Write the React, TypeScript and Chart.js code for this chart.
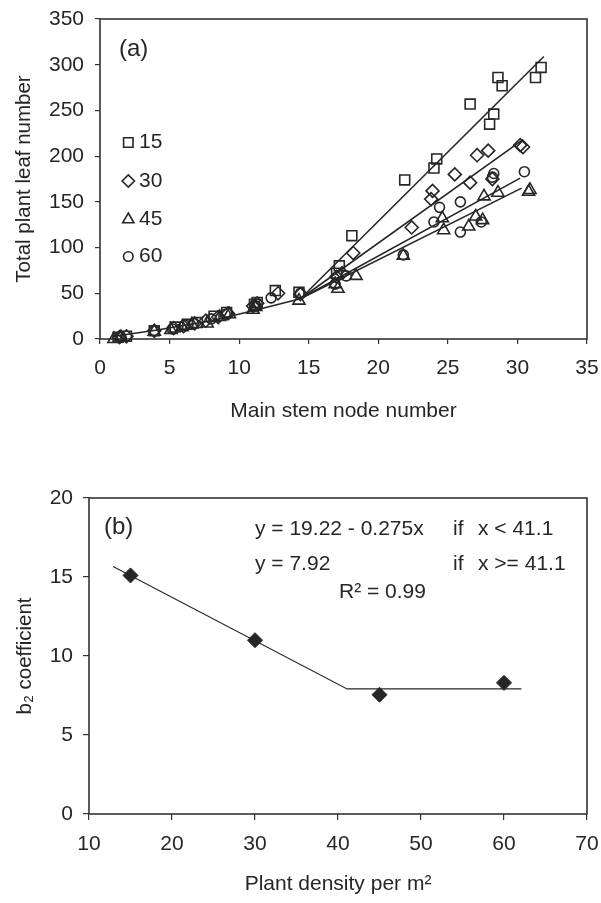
import React, { useEffect, useRef } from "react";
import { Chart, registerables } from "chart.js";
Chart.register(...registerables);

const FONT = '"Liberation Sans", Arial, Helvetica, sans-serif';
const INK = "#262626";
const FRAME = "#333333";

// ---------- Panel (a) data ----------
const seriesNames = ["15", "30", "45", "60"];
const s15X = [1.3, 1.9, 3.9, 5.4, 6.3, 7.0, 8.2, 9.1, 11.1, 11.3, 12.6, 14.3, 17.0, 17.2, 18.1, 21.9, 24.0, 24.2, 26.6, 28.0, 28.3, 28.6, 28.9, 31.3, 31.7];
const s15Y = [2, 3, 9, 13, 16, 18, 25, 29, 38, 40, 53, 51, 72, 80, 113, 174, 187, 197, 257, 235, 246, 286, 277, 286, 297];
const s30X = [1.4, 1.9, 3.9, 5.3, 6.0, 6.8, 7.6, 8.5, 9.2, 11.0, 11.3, 12.8, 14.4, 17.0, 17.4, 18.2, 22.4, 23.8, 23.9, 25.5, 26.6, 27.1, 27.9, 28.2, 30.2, 30.4];
const s30Y = [2, 3, 9, 12, 14, 17, 20, 24, 28, 36, 39, 50, 49, 68, 72, 94, 122, 153, 162, 180, 171, 201, 206, 175, 212, 210];
const s45X = [1.0, 1.5, 3.9, 5.1, 5.9, 6.6, 7.7, 8.6, 9.3, 11.0, 11.2, 14.3, 16.9, 17.1, 18.4, 21.8, 24.6, 24.7, 26.5, 27.0, 27.5, 27.6, 28.6, 30.8, 30.9];
const s45Y = [0, 2, 8, 10, 13, 16, 17, 24, 27, 32, 35, 42, 60, 55, 69, 91, 132, 119, 123, 134, 130, 156, 160, 161, 163];
const s60X = [1.5, 3.9, 5.2, 6.1, 6.7, 8.0, 9.0, 11.2, 12.3, 14.4, 16.9, 17.7, 21.8, 24.0, 24.4, 25.9, 25.9, 27.4, 28.2, 28.3, 30.5];
const s60Y = [2, 9, 11, 15, 17, 22, 27, 36, 45, 50, 60, 69, 92, 128, 144, 117, 150, 128, 177, 181, 183];

// fitted curves
const fitBaseX = [1.0, 4.0, 8.0, 11.0, 14.4];
const fitBaseY = [3, 9.5, 20, 31, 44];
const fit15X = [14.4, 31.9];
const fit15Y = [44, 309];
const fit30X = [14.4, 30.4];
const fit30Y = [44, 218];
const fit45X = [14.4, 30.3];
const fit45Y = [44, 165];
const fit60X = [14.4, 30.2];
const fit60Y = [44, 176];

const xTicksA = [0, 5, 10, 15, 20, 25, 30, 35];
const yTicksA = [0, 50, 100, 150, 200, 250, 300, 350];

// ---------- Panel (b) data ----------
const densities = [15, 30, 45, 60];
const b2Values = [15.1, 11.0, 7.55, 8.3];
const b2FitX = [12.9, 41.1, 62.1];
const b2FitY = [15.67, 7.92, 7.92];
const xTicksB = [10, 20, 30, 40, 50, 60, 70];
const yTicksB = [0, 5, 10, 15, 20];
const eqLeft = ["y = 19.22 - 0.275x", "y = 7.92"];
const eqIf = ["if", "if"];
const eqCond = ["x < 41.1", "x >= 41.1"];
const eqR2 = "R\u00B2 = 0.99";

const pts = (xs: number[], ys: number[]) => xs.map((x, i) => ({ x, y: ys[i] }));

type Shape = "rect" | "rectRot" | "triangle" | "circle";
const shapes: Shape[] = ["rect", "rectRot", "triangle", "circle"];
const radii = [7, 6.5, 7, 5];

function drawShape(ctx: CanvasRenderingContext2D, shape: Shape, x: number, y: number, r: number) {
  ctx.beginPath();
  if (shape === "rect") {
    const s = Math.SQRT1_2 * r;
    ctx.rect(x - s, y - s, 2 * s, 2 * s);
  } else if (shape === "rectRot") {
    ctx.moveTo(x, y - r);
    ctx.lineTo(x + r, y);
    ctx.lineTo(x, y + r);
    ctx.lineTo(x - r, y);
    ctx.closePath();
  } else if (shape === "triangle") {
    const w = r * Math.sin(Math.PI / 3);
    ctx.moveTo(x, y - r);
    ctx.lineTo(x + w, y + r / 2);
    ctx.lineTo(x - w, y + r / 2);
    ctx.closePath();
  } else {
    ctx.arc(x, y, r, 0, Math.PI * 2);
  }
  ctx.stroke();
}

const framePlugin = {
  id: "frame",
  beforeDatasetsDraw(chart: any) {
    const { ctx, chartArea: a } = chart;
    ctx.save();
    ctx.strokeStyle = FRAME;
    ctx.lineWidth = 1.6;
    ctx.strokeRect(a.left, a.top, a.right - a.left, a.bottom - a.top);
    ctx.restore();
  },
};

const legendPluginA = {
  id: "legendA",
  afterDatasetsDraw(chart: any) {
    const { ctx } = chart;
    ctx.save();
    ctx.strokeStyle = INK;
    ctx.fillStyle = INK;
    ctx.lineWidth = 1.6;
    ctx.font = `21px ${FONT}`;
    ctx.textBaseline = "middle";
    ctx.textAlign = "left";
    const ys = [142.5, 181, 219.5, 256.5];
    seriesNames.forEach((name, i) => {
      drawShape(ctx, shapes[i], 128.3, ys[i], i === 2 ? 6.5 : radii[i] * 0.95);
      ctx.fillText(name, 139, ys[i]);
    });
    ctx.font = `24px ${FONT}`;
    ctx.fillText("(a)", 119, 49);
    ctx.restore();
  },
};

const annotPluginB = {
  id: "annotB",
  afterDatasetsDraw(chart: any) {
    const { ctx } = chart;
    ctx.save();
    ctx.fillStyle = INK;
    ctx.textBaseline = "middle";
    ctx.textAlign = "left";
    ctx.font = `24px ${FONT}`;
    ctx.fillText("(b)", 104, 87);
    ctx.font = `21px ${FONT}`;
    const ys = [89, 124];
    eqLeft.forEach((t, i) => {
      ctx.fillText(t, 255, ys[i]);
      ctx.fillText(eqIf[i], 453, ys[i]);
      ctx.fillText(eqCond[i], 478, ys[i]);
    });
    ctx.fillText(eqR2, 339, 152);
    ctx.restore();
  },
};

function xAxis(min: number, max: number, ticks: number[], height: number, tickLen: number, pad: number, title: string, titlePadBottom: number) {
  return {
    type: "linear",
    min,
    max,
    afterBuildTicks: (s: any) => {
      s.ticks = ticks.map((v) => ({ value: v }));
    },
    afterFit: (s: any) => {
      s.height = height;
      s.paddingLeft = 0;
      s.paddingRight = 0;
    },
    grid: { display: true, drawOnChartArea: false, drawTicks: true, tickLength: tickLen, color: FRAME, lineWidth: 1.2 },
    border: { display: false },
    ticks: { padding: pad, color: INK, font: { family: FONT, size: 21 }, maxRotation: 0, autoSkip: false },
    title: { display: true, text: title, color: INK, font: { family: FONT, size: 21 }, padding: { top: 0, bottom: titlePadBottom } },
  };
}

function yAxis(min: number, max: number, ticks: number[], width: number, tickLen: number, pad: number, title: string, titlePadTop: number, titleSize: number) {
  return {
    type: "linear",
    min,
    max,
    afterBuildTicks: (s: any) => {
      s.ticks = ticks.map((v) => ({ value: v }));
    },
    afterFit: (s: any) => {
      s.width = width;
      s.paddingTop = 0;
      s.paddingBottom = 0;
    },
    grid: { display: true, drawOnChartArea: false, drawTicks: true, tickLength: tickLen, color: FRAME, lineWidth: 1.2 },
    border: { display: false },
    ticks: { padding: pad, color: INK, font: { family: FONT, size: 21 }, autoSkip: false },
    title: { display: true, text: title, color: INK, font: { family: FONT, size: titleSize }, padding: { top: titlePadTop, bottom: 0 } },
  };
}

function lineDs(xs: number[], ys: number[], w: number) {
  return {
    type: "scatter",
    data: pts(xs, ys),
    showLine: true,
    pointRadius: 0,
    borderColor: INK,
    borderWidth: w,
    fill: false,
    clip: false,
  };
}

export default function App() {
  const refA = useRef<HTMLCanvasElement>(null);
  const refB = useRef<HTMLCanvasElement>(null);

  useEffect(() => {
    const seriesX = [s15X, s30X, s45X, s60X];
    const seriesY = [s15Y, s30Y, s45Y, s60Y];
    const markerSets = seriesNames.map((name, i) => ({
      type: "scatter",
      label: name,
      data: pts(seriesX[i], seriesY[i]),
      showLine: false,
      pointStyle: shapes[i],
      pointRadius: radii[i],
      pointBorderWidth: 1.6,
      pointBorderColor: INK,
      pointBackgroundColor: "rgba(0,0,0,0)",
      borderColor: INK,
      backgroundColor: "rgba(0,0,0,0)",
      clip: false,
    }));

    const chartA = new Chart(refA.current as HTMLCanvasElement, {
      type: "scatter",
      data: {
        datasets: [
          ...markerSets,
          lineDs(fitBaseX, fitBaseY, 1.6),
          lineDs(fit15X, fit15Y, 1.6),
          lineDs(fit30X, fit30Y, 1.6),
          lineDs(fit45X, fit45Y, 1.6),
          lineDs(fit60X, fit60Y, 1.6),
        ] as any,
      },
      options: {
        responsive: false,
        animation: false,
        events: [],
        layout: { padding: { top: 19, right: 14, left: 0, bottom: 0 } },
        plugins: { legend: { display: false }, tooltip: { enabled: false } },
        scales: {
          x: xAxis(0, 35, xTicksA, 101, 5, 12, "Main stem node number", 16) as any,
          y: yAxis(0, 350, yTicksA, 100, 5, 11, "Total plant leaf number", 12, 20.5) as any,
        },
      },
      plugins: [framePlugin, legendPluginA],
    });

    const chartB = new Chart(refB.current as HTMLCanvasElement, {
      type: "scatter",
      data: {
        datasets: [
          lineDs(b2FitX, b2FitY, 1.1),
          {
            type: "scatter",
            label: "b2",
            data: pts(densities, b2Values),
            showLine: false,
            pointStyle: "rectRot",
            pointRadius: 7.5,
            pointBorderWidth: 1,
            pointBorderColor: INK,
            pointBackgroundColor: INK,
            clip: false,
          },
        ] as any,
      },
      options: {
        responsive: false,
        animation: false,
        events: [],
        layout: { padding: { top: 58, right: 14, left: 0, bottom: 0 } },
        plugins: { legend: { display: false }, tooltip: { enabled: false } },
        scales: {
          x: xAxis(10, 70, xTicksB, 89, 6, 12, "Plant density per m\u00B2", 6) as any,
          y: yAxis(0, 20, yTicksB, 89, 6, 10, "b\u2082 coefficient", 13, 20.5) as any,
        },
      },
      plugins: [framePlugin, annotPluginB],
    });

    return () => {
      chartA.destroy();
      chartB.destroy();
    };
  }, []);

  return (
    <div style={{ position: "absolute", left: 0, top: 0, width: 601, height: 903, background: "#ffffff" }}>
      <canvas ref={refA} width={601} height={440} style={{ position: "absolute", left: 0, top: 0, width: 601, height: 440 }} />
      <canvas ref={refB} width={601} height={463} style={{ position: "absolute", left: 0, top: 440, width: 601, height: 463 }} />
    </div>
  );
}
